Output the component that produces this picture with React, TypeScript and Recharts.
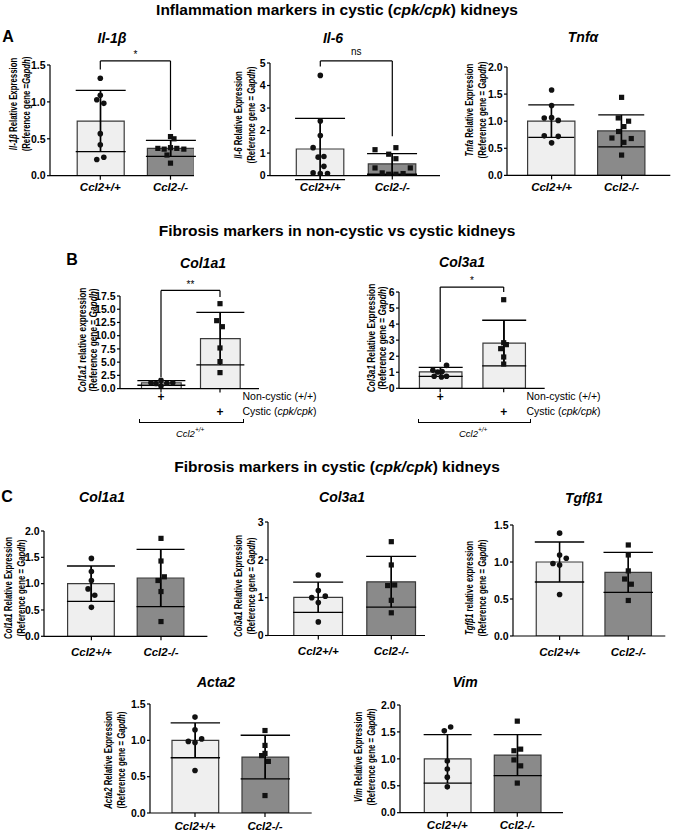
import React from 'react'
import {
  ComposedChart,
  Bar,
  Cell,
  ErrorBar,
  Scatter,
  XAxis,
  YAxis,
  ReferenceLine,
} from 'recharts'

const FONT = '"Liberation Sans", Arial, Helvetica, sans-serif'
const LIGHT = '#efefef'
const DARK = '#8a8a8a'
const EDGE = '#3a3a3a'

const groups = ['Ccl2+/+', 'Ccl2-/-']

// ---- A: inflammation markers ----
const il1bTicks = [0, 0.5, 1, 1.5]
const il1bMean = [0.74, 0.37]
const il1bSd = [0.415, 0.108]
const il1bWt = [1.32, 1.09, 1.03, 0.98, 0.57, 0.42, 0.25, 0.22]
const il1bWtJit = [0, 0, -0.05, 0.05, 0, 0, 0.05, -0.05]
const il1bKo = [0.53, 0.5, 0.37, 0.36, 0.38, 0.37, 0.36, 0.28, 0.17]
const il1bKoJit = [0, 0.05, -0.18, -0.09, 0, 0.09, 0.19, -0.05, 0]

const il6Ticks = [0, 1, 2, 3, 4, 5]
const il6Mean = [1.18, 0.52]
const il6Sd = [1.36, 0.46]
const il6Wt = [4.45, 2.42, 1.78, 1.24, 0.82, 0.85, 0.41, 0.12, 0.09, 0.09]
const il6WtJit = [0, 0, 0, -0.1, -0.03, 0.05, 0.05, -0.1, 0, 0.1]
const il6Ko = [1.24, 1.15, 0.95, 0.75, 0.34, 0.34, 0.12, 0.06, 0.06, 0.09]
const il6KoJit = [0.05, -0.24, -0.05, 0.05, -0.24, 0.25, -0.14, -0.05, 0.05, 0.15]

const tnfTicks = [0, 0.5, 1, 1.5, 2]
const tnfMean = [1.0, 0.82]
const tnfSd = [0.3, 0.295]
const tnfWt = [1.575, 1.29, 1.06, 1.065, 1.015, 0.73, 0.72, 0.6]
const tnfWtJit = [0, 0, -0.105, 0, 0.095, -0.105, 0.095, 0]
const tnfKo = [1.44, 1.06, 1.0, 0.9, 0.81, 0.69, 0.68, 0.61, 0.375]
const tnfKoJit = [0, -0.048, 0.1, 0.033, -0.043, -0.138, 0.138, 0.033, 0]

// ---- B: non-cystic vs cystic ----
const bCol1Ticks = [0, 2.5, 5, 7.5, 10, 12.5, 15, 17.5]
const bCol1Mean = [1.07, 9.44]
const bCol1Sd = [0.44, 4.97]
const bCol1Non = [1.55, 1.1, 0.95, 1.0, 1.1, 0.5]
const bCol1NonJit = [0, -0.17, -0.085, 0.1, 0.2, 0]
const bCol1Cys = [16.05, 12.84, 11.7, 7.68, 5.1, 3.02]
const bCol1CysJit = [0, -0.056, 0.04, 0, 0, 0]

const bCol3Ticks = [0, 1, 2, 3, 4, 5, 6]
const bCol3Mean = [1.02, 2.82]
const bCol3Sd = [0.28, 1.42]
const bCol3Non = [1.43, 1.12, 1.02, 1.04, 0.75, 0.7, 0.75]
const bCol3NonJit = [0.1, -0.115, -0.04, 0.03, -0.095, 0.02, 0.1]
const bCol3Cys = [5.52, 2.84, 2.72, 2.47, 1.95, 1.51]
const bCol3CysJit = [0, 0, 0.042, -0.047, 0, 0]

// ---- C: fibrosis markers in cpk/cpk ----
const cCol1Ticks = [0, 0.5, 1, 1.5, 2]
const cCol1Mean = [1.0, 1.107]
const cCol1Sd = [0.335, 0.545]
const cCol1Wt = [1.48, 1.23, 1.06, 0.9, 0.78, 0.55]
const cCol1WtJit = [0, 0, 0, -0.048, 0.048, 0]
const cCol1Ko = [1.86, 1.43, 1.13, 1.06, 0.85, 0.28]
const cCol1KoJit = [0, 0, 0.048, -0.043, 0, 0]

const cCol3Ticks = [0, 1, 2, 3]
const cCol3Mean = [1.01, 1.42]
const cCol3Sd = [0.4, 0.67]
const cCol3Wt = [1.6, 1.19, 1.0, 1.04, 0.87, 0.36]
const cCol3WtJit = [0, 0, -0.09, 0.096, 0, 0]
const cCol3Ko = [2.48, 1.865, 1.32, 1.335, 0.93, 0.6]
const cCol3KoJit = [0, 0, -0.05, 0.046, 0, 0]

const tgfTicks = [0, 0.5, 1, 1.5]
const tgfMean = [1.0, 0.86]
const tgfSd = [0.27, 0.27]
const tgfWt = [1.39, 1.095, 0.98, 0.96, 1.05, 0.56]
const tgfWtJit = [0, 0, -0.097, 0, 0.097, 0]
const tgfKo = [1.23, 1.095, 0.88, 0.77, 0.7, 0.48]
const tgfKoJit = [0, 0, 0, -0.053, 0.044, 0]

const actaTicks = [0, 0.5, 1, 1.5]
const actaMean = [1.0, 0.77]
const actaSd = [0.24, 0.3]
const actaWt = [1.32, 1.145, 0.985, 0.97, 1.02, 0.585]
const actaWtJit = [0, 0, -0.095, 0, 0.095, 0]
const actaKo = [1.135, 0.93, 0.82, 0.79, 0.71, 0.24]
const actaKoJit = [0, 0, 0, -0.048, 0.048, 0]

const vimTicks = [0, 0.5, 1, 1.5, 2]
const vimMean = [1.0, 1.07]
const vimSd = [0.45, 0.38]
const vimWt = [1.52, 1.59, 0.96, 0.81, 0.66, 0.48]
const vimWtJit = [-0.043, 0.048, 0, 0, 0, 0]
const vimKo = [1.7, 1.15, 1.18, 0.98, 0.87, 0.55]
const vimKoJit = [0, -0.048, 0.048, -0.048, 0.048, 0]

// chart frame padding around the plot box
const YW = 40
const MT = 30
const MR = 12
const XH = 40

const dot = (p: any) => <circle cx={p.cx} cy={p.cy} r={2.8} fill="#111" />
const square = (p: any) => (
  <rect x={p.cx - 2.6} y={p.cy - 2.6} width={5.2} height={5.2} fill="#111" />
)

function PlusTick(props: any) {
  const { x, y, payload } = props
  const row = payload.value === 1 ? 0 : 1
  return (
    <text x={x} y={y + row * 15} dy="0.71em" textAnchor="middle" fontSize={12} fontWeight="bold" fill="#000">
      +
    </text>
  )
}

type Box = {
  x0: number
  x1: number
  y0: number
  y1: number
  c1: number
  c2: number
  barW: number
  whisker: number
  gap: number
}

type Bracket = { top: number; lb: number; rb: number; label: string; off: number }

function Plot(props: {
  box: Box
  ticks: number[]
  dec: number
  mean: number[]
  sd: number[]
  wt: number[]
  wtJit: number[]
  ko: number[]
  koJit: number[]
  fills: string[]
  bracket?: Bracket
  plus?: boolean
}) {
  const { box, ticks, dec, mean, sd, fills, bracket, plus } = props
  const { x0, x1, y0, y1, c1, c2, barW, whisker, gap } = box
  const u = c2 - c1
  const lo = 1 - (c1 - x0) / u
  const hi = 2 + (x1 - c2) / u
  const W = x1 - x0 + YW + MR
  const H = y1 - y0 + MT + XH
  const bars = mean.map((m, i) => ({ x: i + 1, y: m, sd: sd[i] }))
  const wt = props.wt.map((v, i) => ({ x: 1 + props.wtJit[i], y: v }))
  const ko = props.ko.map((v, i) => ({ x: 2 + props.koJit[i], y: v }))
  const line = { stroke: '#000', strokeWidth: 1.2 }
  return (
    <div style={{ position: 'absolute', left: x0 - YW, top: y0 - MT }}>
      <ComposedChart width={W} height={H} data={bars} margin={{ top: MT, right: MR, bottom: 0, left: 0 }}>
        <XAxis
          type="number"
          dataKey="x"
          domain={[lo, hi]}
          allowDataOverflow
          ticks={[1, 2]}
          interval={0}
          height={XH}
          tickSize={4}
          tickMargin={gap}
          tickFormatter={(v: number) => groups[v - 1]}
          tick={plus ? <PlusTick /> : { fontSize: 11.5, fontWeight: 'bold', fontStyle: 'italic', fill: '#000' }}
          axisLine={line}
          tickLine={line}
        />
        <XAxis xAxisId="pts" type="number" dataKey="x" domain={[lo, hi]} allowDataOverflow hide />
        <YAxis
          type="number"
          dataKey="y"
          domain={[0, ticks[ticks.length - 1]]}
          allowDataOverflow
          ticks={ticks}
          interval={0}
          width={YW}
          tickSize={3}
          tickMargin={1.5}
          tickFormatter={(v: number) => v.toFixed(dec)}
          tick={{ fontSize: 10.5, fontWeight: 'bold', fill: '#000' }}
          axisLine={line}
          tickLine={line}
        />
        <Bar dataKey="y" barSize={barW} stroke={EDGE} strokeWidth={1.2} isAnimationActive={false}>
          {bars.map((b, i) => (
            <Cell key={b.x} fill={fills[i]} />
          ))}
          <ErrorBar dataKey="sd" width={whisker} stroke="#000" strokeWidth={1.3} direction="y" isAnimationActive={false} />
        </Bar>
        {/* error bar stems, clipped at the x axis like the original */}
        {bars.map((b) => (
          <ReferenceLine
            key={'stem' + b.x}
            segment={[
              { x: b.x, y: Math.max(0, b.y - b.sd) },
              { x: b.x, y: b.y + b.sd },
            ]}
            stroke="#000"
            strokeWidth={1.3}
            ifOverflow="visible"
          />
        ))}
        <Scatter xAxisId="pts" data={wt} dataKey="y" shape={dot} isAnimationActive={false} />
        <Scatter xAxisId="pts" data={ko} dataKey="y" shape={square} isAnimationActive={false} />
        {bracket && (
          <ReferenceLine
            segment={[{ x: 1, y: bracket.lb }, { x: 1, y: bracket.top }]}
            stroke="#000"
            strokeWidth={1.2}
            ifOverflow="visible"
          />
        )}
        {bracket && (
          <ReferenceLine
            segment={[{ x: 1, y: bracket.top }, { x: 2, y: bracket.top }]}
            stroke="#000"
            strokeWidth={1.2}
            ifOverflow="visible"
            label={{ value: bracket.label, position: 'top', offset: bracket.off, fontSize: 10, fill: '#000' }}
          />
        )}
        {bracket && (
          <ReferenceLine
            segment={[{ x: 2, y: bracket.top }, { x: 2, y: bracket.rb }]}
            stroke="#000"
            strokeWidth={1.2}
            ifOverflow="visible"
          />
        )}
      </ComposedChart>
    </div>
  )
}

function Txt(props: { x: number; y: number; size: number; bold?: boolean; italic?: boolean; left?: boolean; children: React.ReactNode }) {
  const { x, y, size, bold, italic, left } = props
  return (
    <div
      style={{
        position: 'absolute',
        left: x,
        top: y,
        transform: left ? 'translate(0,-50%)' : 'translate(-50%,-50%)',
        fontSize: size,
        fontWeight: bold ? 'bold' : 'normal',
        fontStyle: italic ? 'italic' : 'normal',
        whiteSpace: 'nowrap',
        lineHeight: 1.15,
      }}
    >
      {props.children}
    </div>
  )
}

function YLabel(props: { cx: number; cy: number; gene: string; rest: string; eq?: string; lh: number; size?: number; sx?: number }) {
  const { cx, cy, gene, rest, lh } = props
  return (
    <div
      style={{
        position: 'absolute',
        left: cx,
        top: cy,
        transform: `translate(-50%,-50%) rotate(-90deg) scaleX(${props.sx ?? 0.78})`,
        whiteSpace: 'nowrap',
        textAlign: 'center',
        fontSize: props.size ?? 10,
        fontWeight: 'bold',
        lineHeight: `${lh}px`,
      }}
    >
      <div>
        <i>{gene}</i>
        {rest}
      </div>
      <div>
        (Reference gene {props.eq ?? '= '}
        <i>Gapdh</i>)
      </div>
    </div>
  )
}

function GroupBrace(props: { x0: number; x1: number; y: number }) {
  const { x0, x1, y } = props
  return (
    <>
      <div style={{ position: 'absolute', left: x0, top: y - 3, width: x1 - x0, height: 3, borderLeft: '1px solid #000', borderRight: '1px solid #000', borderBottom: '1px solid #000' }} />
      <Txt x={(x0 + x1) / 2} y={y + 10.5} size={9.5} italic>
        Ccl2<sup style={{ fontSize: 6.5 }}>+/+</sup>
      </Txt>
    </>
  )
}

export default function App() {
  return (
    <div style={{ position: 'absolute', left: 0, top: 0, width: 674, height: 831, background: '#fff', fontFamily: FONT, color: '#000', overflow: 'hidden' }}>
      <Txt x={337} y={10} size={15.5} bold>
        Inflammation markers in cystic (<i>cpk/cpk</i>) kidneys
      </Txt>
      <Txt x={337} y={231} size={15.5} bold>
        Fibrosis markers in non-cystic vs cystic kidneys
      </Txt>
      <Txt x={337} y={467} size={15.5} bold>
        Fibrosis markers in cystic (<i>cpk/cpk</i>) kidneys
      </Txt>

      <Txt x={8} y={37} size={16} bold>A</Txt>
      <Txt x={72} y={260} size={16} bold>B</Txt>
      <Txt x={7} y={497} size={16} bold>C</Txt>

      <Txt x={112} y={38} size={14} bold italic>Il-1β</Txt>
      <Txt x={333} y={38} size={14} bold italic>Il-6</Txt>
      <Txt x={583} y={37} size={14} bold italic>Tnfα</Txt>
      <Txt x={203} y={263} size={14} bold italic>Col1a1</Txt>
      <Txt x={462} y={262} size={14} bold italic>Col3a1</Txt>
      <Txt x={102} y={497} size={14} bold italic>Col1a1</Txt>
      <Txt x={342} y={497} size={14} bold italic>Col3a1</Txt>
      <Txt x={584} y={498} size={14} bold italic>Tgfβ1</Txt>
      <Txt x={216} y={682} size={14} bold italic>Acta2</Txt>
      <Txt x={465} y={682} size={14} bold italic>Vim</Txt>

      <YLabel cx={19.5} cy={104} gene="Il-1β" rest=" Relative Expression" eq="=" lh={12.5} />
      <YLabel cx={245} cy={115} gene="Il-6" rest=" Relative Expression" lh={12.5} />
      <YLabel cx={476} cy={110} gene="Tnfa" rest=" Relative Expression" lh={12.5} />
      <YLabel cx={87.5} cy={340} gene="Col1a1" rest=" relative expression" lh={10.5} size={10} sx={0.83} />
      <YLabel cx={377} cy={338} gene="Col3a1" rest=" Relative Expression" lh={10.5} size={10} sx={0.83} />
      <YLabel cx={14.5} cy={588} gene="Col1a1" rest=" Relative Expression" lh={12.5} />
      <YLabel cx={244.5} cy={586} gene="Col3a1" rest=" Relative Expression" lh={12.5} />
      <YLabel cx={476} cy={588} gene="Tgfβ1" rest=" relative expression" lh={12.5} />
      <YLabel cx={114.5} cy={760} gene="Acta2" rest=" Relative Expression" lh={12.5} />
      <YLabel cx={365} cy={757} gene="Vim" rest=" Relative Expression" lh={12.5} />

      <Plot
        box={{ x0: 50, x1: 194, y0: 65, y1: 175.7, c1: 100.3, c2: 170.5, barW: 47, whisker: 25, gap: 3 }}
        ticks={il1bTicks}
        dec={1}
        mean={il1bMean}
        sd={il1bSd}
        wt={il1bWt}
        wtJit={il1bWtJit}
        ko={il1bKo}
        koJit={il1bKoJit}
        fills={[LIGHT, DARK]}
        bracket={{ top: 1.555, lb: 1.44, rb: 0.62, label: '*', off: 3 }}
      />
      <Plot
        box={{ x0: 270, x1: 440, y0: 62.7, y1: 175.3, c1: 320.3, c2: 392.3, barW: 47.5, whisker: 25, gap: 3 }}
        ticks={il6Ticks}
        dec={0}
        mean={il6Mean}
        sd={il6Sd}
        wt={il6Wt}
        wtJit={il6WtJit}
        ko={il6Ko}
        koJit={il6KoJit}
        fills={[LIGHT, DARK]}
        bracket={{ top: 5.09, lb: 4.85, rb: 1.75, label: 'ns', off: 6 }}
      />
      <Plot
        box={{ x0: 506.7, x1: 670, y0: 67.3, y1: 175.7, c1: 551.3, c2: 621.3, barW: 47.3, whisker: 23, gap: 3 }}
        ticks={tnfTicks}
        dec={1}
        mean={tnfMean}
        sd={tnfSd}
        wt={tnfWt}
        wtJit={tnfWtJit}
        ko={tnfKo}
        koJit={tnfKoJit}
        fills={[LIGHT, DARK]}
      />

      <Plot
        box={{ x0: 120, x1: 259, y0: 295.7, y1: 388.3, c1: 161, c2: 220, barW: 39.7, whisker: 24, gap: 0 }}
        ticks={bCol1Ticks}
        dec={1}
        mean={bCol1Mean}
        sd={bCol1Sd}
        wt={bCol1Non}
        wtJit={bCol1NonJit}
        ko={bCol1Cys}
        koJit={bCol1CysJit}
        fills={[LIGHT, LIGHT]}
        bracket={{ top: 18.56, lb: 2.2, rb: 17.3, label: '**', off: 2 }}
        plus
      />
      <Plot
        box={{ x0: 399.3, x1: 545, y0: 291.7, y1: 388, c1: 440.5, c2: 504, barW: 42.5, whisker: 22, gap: 0 }}
        ticks={bCol3Ticks}
        dec={0}
        mean={bCol3Mean}
        sd={bCol3Sd}
        wt={bCol3Non}
        wtJit={bCol3NonJit}
        ko={bCol3Cys}
        koJit={bCol3CysJit}
        fills={[LIGHT, LIGHT]}
        bracket={{ top: 6.31, lb: 1.64, rb: 6.0, label: '*', off: 3.5 }}
        plus
      />
      <Txt x={242.5} y={396} size={10.5} left>Non-cystic (+/+)</Txt>
      <Txt x={242.5} y={410.7} size={10.5} left>Cystic (<i>cpk/cpk</i>)</Txt>
      <Txt x={526.5} y={396} size={10.5} left>Non-cystic (+/+)</Txt>
      <Txt x={526.5} y={410.7} size={10.5} left>Cystic (<i>cpk/cpk</i>)</Txt>
      <GroupBrace x0={138.6} x1={241.6} y={422.3} />
      <GroupBrace x0={417.6} x1={528.8} y={422.3} />

      <Plot
        box={{ x0: 44.3, x1: 207.7, y0: 531, y1: 636.3, c1: 91.7, c2: 161.3, barW: 46.7, whisker: 24, gap: 7.5 }}
        ticks={cCol1Ticks}
        dec={1}
        mean={cCol1Mean}
        sd={cCol1Sd}
        wt={cCol1Wt}
        wtJit={cCol1WtJit}
        ko={cCol1Ko}
        koJit={cCol1KoJit}
        fills={[LIGHT, DARK]}
      />
      <Plot
        box={{ x0: 268, x1: 425, y0: 522, y1: 635.5, c1: 318.3, c2: 391.3, barW: 48.7, whisker: 25, gap: 7.5 }}
        ticks={cCol3Ticks}
        dec={0}
        mean={cCol3Mean}
        sd={cCol3Sd}
        wt={cCol3Wt}
        wtJit={cCol3WtJit}
        ko={cCol3Ko}
        koJit={cCol3KoJit}
        fills={[LIGHT, DARK]}
      />
      <Plot
        box={{ x0: 512.7, x1: 665, y0: 525.3, y1: 636.3, c1: 559.3, c2: 628, barW: 46.5, whisker: 24.7, gap: 7.5 }}
        ticks={tgfTicks}
        dec={1}
        mean={tgfMean}
        sd={tgfSd}
        wt={tgfWt}
        wtJit={tgfWtJit}
        ko={tgfKo}
        koJit={tgfKoJit}
        fills={[LIGHT, DARK]}
      />
      <Plot
        box={{ x0: 150, x1: 311.7, y0: 704.3, y1: 813.3, c1: 195, c2: 265, barW: 46.7, whisker: 24.7, gap: 4.5 }}
        ticks={actaTicks}
        dec={1}
        mean={actaMean}
        sd={actaSd}
        wt={actaWt}
        wtJit={actaWtJit}
        ko={actaKo}
        koJit={actaKoJit}
        fills={[LIGHT, DARK]}
      />
      <Plot
        box={{ x0: 400, x1: 563, y0: 705, y1: 812.7, c1: 447.3, c2: 517.3, barW: 46.7, whisker: 24, gap: 4.5 }}
        ticks={vimTicks}
        dec={1}
        mean={vimMean}
        sd={vimSd}
        wt={vimWt}
        wtJit={vimWtJit}
        ko={vimKo}
        koJit={vimKoJit}
        fills={[LIGHT, DARK]}
      />
    </div>
  )
}
